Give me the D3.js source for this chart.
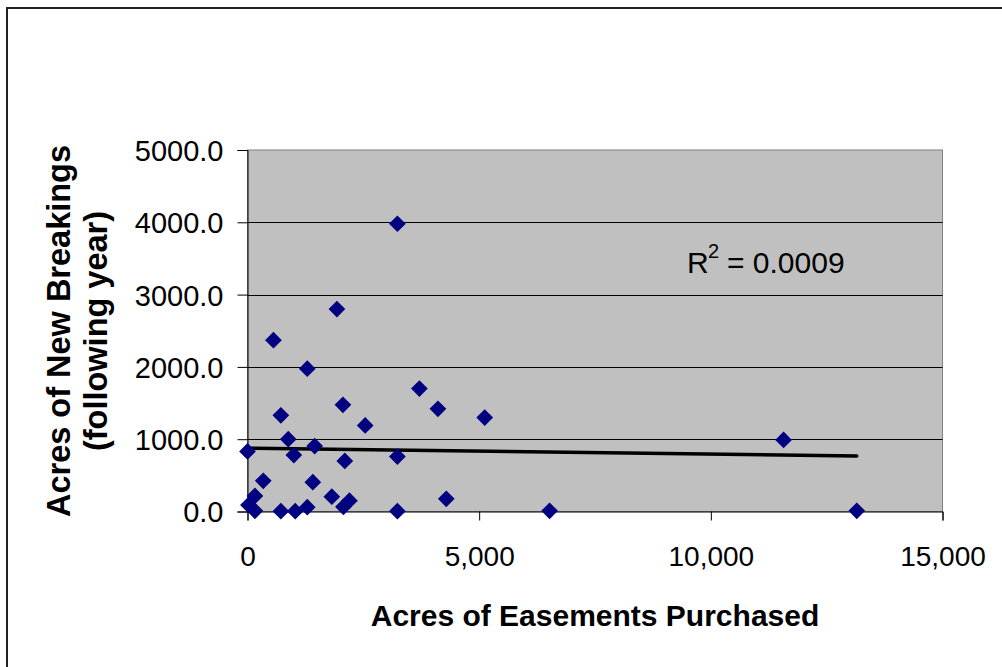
<!DOCTYPE html>
<html>
<head>
<meta charset="utf-8">
<script src="https://cdn.jsdelivr.net/npm/d3@7/dist/d3.min.js"></script>
<style>
  html, body { margin: 0; padding: 0; background: #fff; }
  svg { display: block; font-family: "Liberation Sans", Arial, sans-serif; }
</style>
</head>
<body>
<svg id="chart" width="1002" height="667"></svg>
<script>
// Data
const easementAcres = [3235, 1930, 560, 1290, 3710, 4110, 2060, 720, 5120, 2540,
  880, 1450, 0, 1000, 3235, 2100, 340, 1410, 160, 1820,
  2200, 2070, 20, 160, 720, 1030, 1290, 3235, 4290, 11570,
  6520, 13150];
const newBreakings = [3980, 2800, 2370, 1975, 1700, 1420, 1475, 1330, 1300, 1190,
  1000, 905, 830, 780, 760, 700, 425, 405, 215, 205,
  150, 65, 90, 10, 5, 5, 60, 5, 175, 990,
  10, 10];
const trendX = [0, 13150];
const trendY = [875, 768];
const xTicks = [0, 5000, 10000, 15000];
const yTicks = [0, 1000, 2000, 3000, 4000, 5000];
const rSquared = "0.0009";

const svg = d3.select("#chart");

// outer frame
svg.append("rect")
  .attr("x", 7).attr("y", 8).attr("width", 1010).attr("height", 700)
  .attr("fill", "none").attr("stroke", "#222").attr("stroke-width", 2);

const pLeft = 247.5, pRight = 942.5, pTop = 150, pBottom = 511.5;
const x = d3.scaleLinear().domain([0, 15000]).range([pLeft, pRight]);
const y = d3.scaleLinear().domain([0, 5000]).range([pBottom, pTop]);

// plot area
svg.append("rect")
  .attr("x", pLeft).attr("y", pTop).attr("width", pRight - pLeft).attr("height", pBottom - pTop)
  .attr("fill", "#c0c0c0").attr("stroke", "#808080").attr("stroke-width", 1);

// gridlines
svg.append("g").selectAll("line").data(yTicks.filter(d => d > 0 && d < 5000)).join("line")
  .attr("x1", pLeft).attr("x2", pRight)
  .attr("y1", d => Math.round(y(d)) + 0.5).attr("y2", d => Math.round(y(d)) + 0.5)
  .attr("stroke", "#000").attr("stroke-width", 1);

// y axis
const yAxis = d3.axisLeft(y).tickValues(yTicks).tickSize(10).tickPadding(14)
  .tickFormat(d3.format(".1f"));
const gy = svg.append("g").attr("transform", `translate(${pLeft},0)`).call(yAxis);
gy.select(".domain").attr("stroke", "#000");
gy.selectAll(".tick line").attr("stroke", "#000");
gy.selectAll(".tick text").attr("font-size", 29).attr("fill", "#000")
  .attr("font-family", "Liberation Sans, Arial, sans-serif").attr("dy", "0.36em");

// x axis
const xAxis = d3.axisBottom(x).tickValues(xTicks).tickSize(9).tickPadding(26)
  .tickFormat(d3.format(","));
const gx = svg.append("g").attr("transform", `translate(0,${pBottom})`).call(xAxis);
gx.select(".domain").attr("stroke", "#000");
gx.selectAll(".tick line").attr("stroke", "#000");
gx.selectAll(".tick text").attr("font-size", 28).attr("fill", "#000")
  .attr("font-family", "Liberation Sans, Arial, sans-serif").attr("dy", "0.71em");

// trendline
svg.append("line")
  .attr("x1", x(trendX[0])).attr("y1", y(trendY[0]))
  .attr("x2", x(trendX[1])).attr("y2", y(trendY[1]))
  .attr("stroke", "#000").attr("stroke-width", 3.5).attr("stroke-linecap", "round");

// points
const sym = d3.symbol().type(d3.symbolSquare).size(140);
svg.append("g").selectAll("path").data(easementAcres.map((v, i) => [v, newBreakings[i]])).join("path")
  .attr("d", sym)
  .attr("transform", d => `translate(${x(d[0])},${y(d[1])}) rotate(45)`)
  .attr("fill", "#000080");

// R^2 label
const rg = svg.append("g").attr("font-family", "Liberation Sans, Arial, sans-serif").attr("fill", "#000");
rg.append("text").attr("x", 687).attr("y", 273).attr("font-size", 30).text("R");
rg.append("text").attr("x", 708).attr("y", 258).attr("font-size", 20).text("2");
rg.append("text").attr("x", 727).attr("y", 273).attr("font-size", 30).text("= " + rSquared);

// axis titles
svg.append("text")
  .attr("x", 595).attr("y", 626)
  .attr("text-anchor", "middle").attr("font-size", 30).attr("font-weight", "bold")
  .text("Acres of Easements Purchased");

const yt = svg.append("text")
  .attr("transform", "translate(70,331) rotate(-90)")
  .attr("text-anchor", "middle").attr("font-size", 32.5).attr("font-weight", "bold");
yt.append("tspan").attr("x", 0).attr("y", 0).text("Acres of New Breakings");
yt.append("tspan").attr("x", 0).attr("y", 37).text("(following year)");
</script>
</body>
</html>
